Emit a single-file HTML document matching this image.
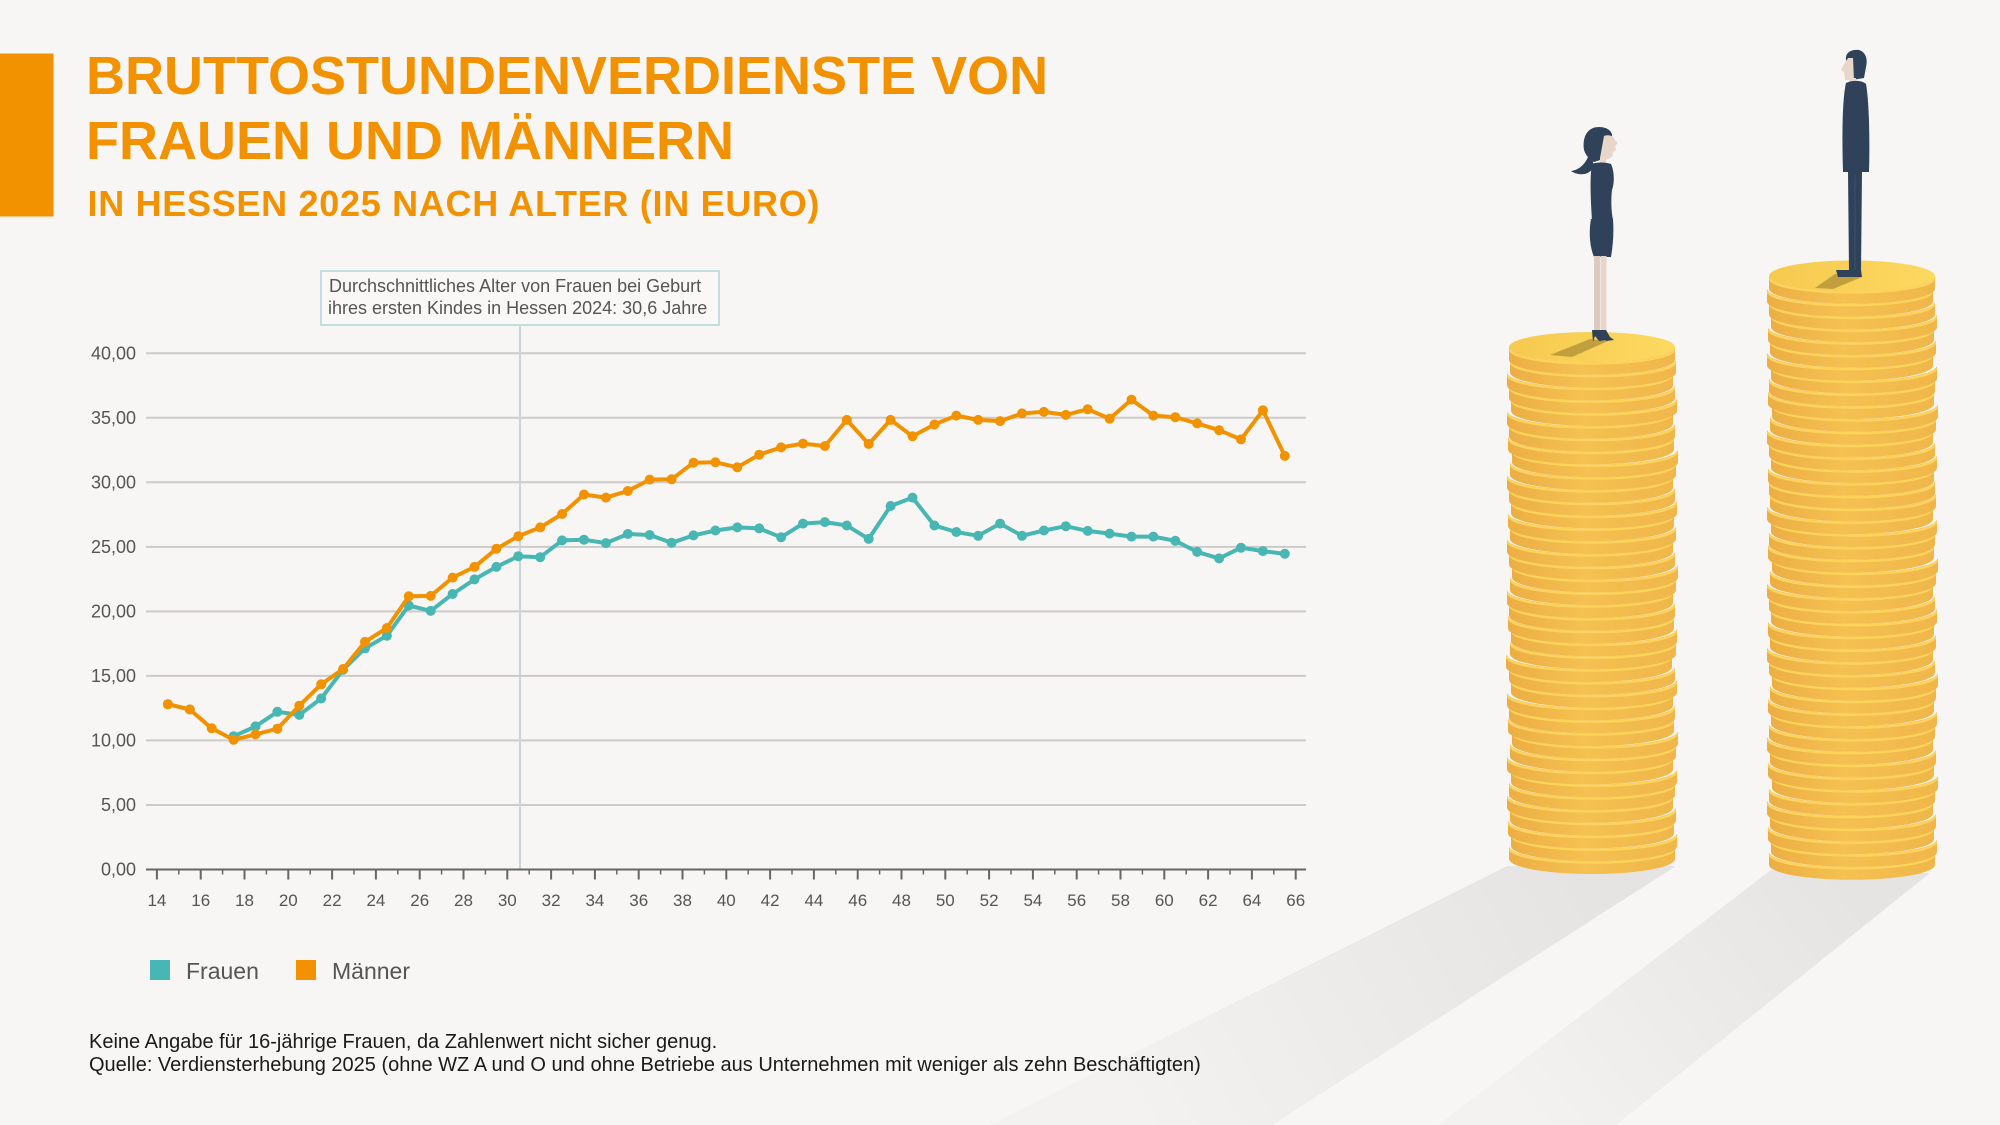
<!DOCTYPE html>
<html>
<head>
<meta charset="utf-8">
<style>
html,body{margin:0;padding:0;}
body{width:2000px;height:1125px;overflow:hidden;background:#f8f6f4;}
svg{display:block;}
</style>
</head>
<body>
<svg width="2000" height="1125" viewBox="0 0 2000 1125" xmlns="http://www.w3.org/2000/svg">
<defs>
  <linearGradient id="sideg" x1="0" y1="0" x2="1" y2="0">
    <stop offset="0" stop-color="#ecae44"/>
    <stop offset="0.45" stop-color="#f5c151"/>
    <stop offset="1" stop-color="#f0b64a"/>
  </linearGradient>
  <linearGradient id="topg" x1="0" y1="0" x2="1" y2="0">
    <stop offset="0" stop-color="#f6c94f"/>
    <stop offset="1" stop-color="#fdd961"/>
  </linearGradient>
  <linearGradient id="shw" gradientUnits="userSpaceOnUse" x1="1590" y1="866" x2="1120" y2="1125">
    <stop offset="0" stop-color="#000" stop-opacity="0.075"/>
    <stop offset="1" stop-color="#000" stop-opacity="0.015"/>
  </linearGradient>
  <linearGradient id="shm" gradientUnits="userSpaceOnUse" x1="1850" y1="870" x2="1520" y2="1125">
    <stop offset="0" stop-color="#000" stop-opacity="0.075"/>
    <stop offset="1" stop-color="#000" stop-opacity="0.015"/>
  </linearGradient>
  <g id="c">
    <path d="M-83,0 A83,15 0 0 0 83,0 L83,12.8 A83,15 0 0 1 -83,12.8 Z" fill="url(#sideg)"/>
    <path d="M-82,2.4 A82,14 0 0 0 82,2.4" fill="none" stroke="#fdd35c" stroke-width="2.4"/>
  </g>
  <marker id="mo" markerWidth="14" markerHeight="14" refX="7" refY="7" markerUnits="userSpaceOnUse"><circle cx="7" cy="7" r="5" fill="#f39200"/></marker>
  <marker id="mt" markerWidth="14" markerHeight="14" refX="7" refY="7" markerUnits="userSpaceOnUse"><circle cx="7" cy="7" r="5" fill="#48b6b2"/></marker>
</defs>

<!-- floor shadows -->
<polygon points="1507,866 1676,866 1272,1125 990,1125" fill="url(#shw)"/>
<polygon points="1771,870 1930,873 1616,1125 1438,1125" fill="url(#shm)"/>

<!-- title block -->
<rect x="0" y="53.5" width="53.5" height="163" fill="#f39200"/>
<g font-family="'Liberation Sans', Arial, sans-serif" font-weight="bold" fill="#f39200">
  <text x="86" y="94" font-size="54">BRUTTOSTUNDENVERDIENSTE VON</text>
  <text x="86" y="159" font-size="54">FRAUEN UND MÄNNERN</text>
  <text x="87.5" y="216" font-size="36" letter-spacing="0.7">IN HESSEN 2025 NACH ALTER (IN EURO)</text>
</g>

<!-- gridlines -->
<g stroke="#cdcbca" stroke-width="2">
  <line x1="146" y1="353.3" x2="1306" y2="353.3"/>
  <line x1="146" y1="417.8" x2="1306" y2="417.8"/>
  <line x1="146" y1="482.3" x2="1306" y2="482.3"/>
  <line x1="146" y1="546.9" x2="1306" y2="546.9"/>
  <line x1="146" y1="611.4" x2="1306" y2="611.4"/>
  <line x1="146" y1="675.9" x2="1306" y2="675.9"/>
  <line x1="146" y1="740.4" x2="1306" y2="740.4"/>
  <line x1="146" y1="805.0" x2="1306" y2="805.0"/>
</g>

<!-- y labels -->
<g font-family="'Liberation Sans', Arial, sans-serif" font-size="18" fill="#555" text-anchor="end">
  <text x="136" y="359.5">40,00</text>
  <text x="136" y="424">35,00</text>
  <text x="136" y="488.5">30,00</text>
  <text x="136" y="553">25,00</text>
  <text x="136" y="617.5">20,00</text>
  <text x="136" y="682">15,00</text>
  <text x="136" y="746.5">10,00</text>
  <text x="136" y="811">5,00</text>
  <text x="136" y="875.5">0,00</text>
</g>

<!-- annotation -->
<line x1="520" y1="325" x2="520" y2="869" stroke="#c6d6dd" stroke-width="2"/>
<rect x="321" y="271" width="398" height="54" fill="#faf8f7" stroke="#c2dfdf" stroke-width="2"/>
<g font-family="'Liberation Sans', Arial, sans-serif" font-size="18" fill="#555">
  <text x="329" y="292">Durchschnittliches Alter von Frauen bei Geburt</text>
  <text x="328" y="314">ihres ersten Kindes in Hessen 2024: 30,6 Jahre</text>
</g>

<!-- x axis -->
<line x1="146" y1="869.5" x2="1306" y2="869.5" stroke="#666" stroke-width="2"/>
<path stroke="#666" stroke-width="2" fill="none" d="M156.9,869.5v10 M200.7,869.5v10 M244.5,869.5v10 M288.3,869.5v10 M332.1,869.5v10 M375.9,869.5v10 M419.7,869.5v10 M463.5,869.5v10 M507.3,869.5v10 M551.1,869.5v10 M594.9,869.5v10 M638.7,869.5v10 M682.5,869.5v10 M726.3,869.5v10 M770.1,869.5v10 M813.9,869.5v10 M857.7,869.5v10 M901.5,869.5v10 M945.3,869.5v10 M989.1,869.5v10 M1032.9,869.5v10 M1076.7,869.5v10 M1120.5,869.5v10 M1164.3,869.5v10 M1208.1,869.5v10 M1251.9,869.5v10 M1295.7,869.5v10"/>
<path stroke="#666" stroke-width="1.5" fill="none" d="M178.8,869.5v5 M222.6,869.5v5 M266.4,869.5v5 M310.2,869.5v5 M354,869.5v5 M397.8,869.5v5 M441.6,869.5v5 M485.4,869.5v5 M529.2,869.5v5 M573,869.5v5 M616.8,869.5v5 M660.6,869.5v5 M704.4,869.5v5 M748.2,869.5v5 M792,869.5v5 M835.8,869.5v5 M879.6,869.5v5 M923.4,869.5v5 M967.2,869.5v5 M1011,869.5v5 M1054.8,869.5v5 M1098.6,869.5v5 M1142.4,869.5v5 M1186.2,869.5v5 M1230,869.5v5 M1273.8,869.5v5"/>
<g font-family="'Liberation Sans', Arial, sans-serif" font-size="17" fill="#555" text-anchor="middle">
  <text x="156.9" y="906">14</text><text x="200.7" y="906">16</text><text x="244.5" y="906">18</text><text x="288.3" y="906">20</text><text x="332.1" y="906">22</text><text x="375.9" y="906">24</text><text x="419.7" y="906">26</text><text x="463.5" y="906">28</text><text x="507.3" y="906">30</text><text x="551.1" y="906">32</text><text x="594.9" y="906">34</text><text x="638.7" y="906">36</text><text x="682.5" y="906">38</text><text x="726.3" y="906">40</text><text x="770.1" y="906">42</text><text x="813.9" y="906">44</text><text x="857.7" y="906">46</text><text x="901.5" y="906">48</text><text x="945.3" y="906">50</text><text x="989.1" y="906">52</text><text x="1032.9" y="906">54</text><text x="1076.7" y="906">56</text><text x="1120.5" y="906">58</text><text x="1164.3" y="906">60</text><text x="1208.1" y="906">62</text><text x="1251.9" y="906">64</text><text x="1295.7" y="906">66</text>
</g>

<!-- series: Frauen -->
<polyline fill="none" stroke="#48b6b2" stroke-width="4" stroke-linejoin="round" marker-start="url(#mt)" marker-mid="url(#mt)" marker-end="url(#mt)" points="167.9,704.2 189.8,709.5"/>
<polyline fill="none" stroke="#48b6b2" stroke-width="4" stroke-linejoin="round" marker-start="url(#mt)" marker-mid="url(#mt)" marker-end="url(#mt)" points="233.6,736.3 255.5,726.4 277.4,711.8 299.3,714.9 321.2,698.5 343.1,669.7 365.0,648.3 386.9,635.7 408.8,605.5 430.7,610.9 452.6,594.0 474.5,579.4 496.4,566.9 518.3,556.2 540.2,557.2 562.1,540.4 584.0,539.7 605.9,543.1 627.8,534.0 649.7,535.0 671.6,542.8 693.5,535.4 715.4,530.5 737.3,527.4 759.2,528.4 781.1,537.3 803.0,523.6 824.9,522.1 846.8,525.5 868.7,538.9 890.6,506.0 912.5,497.6 934.4,525.5 956.3,532.0 978.2,535.8 1000.1,523.6 1022.0,535.8 1043.9,530.5 1065.8,526.2 1087.7,530.9 1109.6,533.6 1131.5,536.6 1153.4,536.6 1175.3,540.8 1197.2,551.9 1219.1,558.4 1241.0,547.7 1262.9,551.1 1284.8,553.8"/>
<!-- series: Männer -->
<polyline fill="none" stroke="#f39200" stroke-width="4" stroke-linejoin="round" marker-start="url(#mo)" marker-mid="url(#mo)" marker-end="url(#mo)" points="167.9,704.2 189.8,709.5 211.7,728.3 233.6,739.8 255.5,734.4 277.4,728.7 299.3,705.7 321.2,684.3 343.1,669.0 365.0,641.9 386.9,628.0 408.8,596.3 430.7,595.9 452.6,577.6 474.5,566.9 496.4,548.8 518.3,536.2 540.2,527.4 562.1,514.0 584.0,494.5 605.9,497.6 627.8,491.0 649.7,479.6 671.6,479.3 693.5,462.7 715.4,462.3 737.3,467.3 759.2,454.7 781.1,447.4 803.0,443.6 824.9,446.0 846.8,419.9 868.7,444.0 890.6,419.9 912.5,436.3 934.4,424.5 956.3,415.6 978.2,419.9 1000.1,421.1 1022.0,413.4 1043.9,411.9 1065.8,414.9 1087.7,409.2 1109.6,418.7 1131.5,399.6 1153.4,415.6 1175.3,417.2 1197.2,423.4 1219.1,430.2 1241.0,439.4 1262.9,410.3 1284.8,455.9"/>

<!-- legend -->
<rect x="150" y="960" width="20" height="20" fill="#48b6b2"/>
<rect x="296" y="960" width="20" height="20" fill="#f39200"/>
<g font-family="'Liberation Sans', Arial, sans-serif" font-size="23" fill="#555">
  <text x="186" y="979">Frauen</text>
  <text x="332" y="979">Männer</text>
</g>

<!-- footer -->
<g font-family="'Liberation Sans', Arial, sans-serif" font-size="20" fill="#1a1a1a">
  <text x="89" y="1048">Keine Angabe für 16-jährige Frauen, da Zahlenwert nicht sicher genug.</text>
  <text x="89" y="1071">Quelle: Verdiensterhebung 2025 (ohne WZ A und O und ohne Betriebe aus Unternehmen mit weniger als zehn Beschäftigten)</text>
</g>

<!-- woman coin stack -->
<g>
<use href="#c" x="1592" y="846.2"/><use href="#c" x="1594" y="833.4"/><use href="#c" x="1591" y="820.6"/><use href="#c" x="1593" y="807.8"/><use href="#c" x="1590" y="795"/><use href="#c" x="1592" y="782.2"/><use href="#c" x="1594" y="769.4"/><use href="#c" x="1590" y="756.6"/><use href="#c" x="1593" y="743.8"/><use href="#c" x="1595" y="731"/>
<use href="#c" x="1591" y="718.2"/><use href="#c" x="1592" y="705.4"/><use href="#c" x="1590" y="692.6"/><use href="#c" x="1594" y="679.8"/><use href="#c" x="1592" y="667"/><use href="#c" x="1589" y="654.2"/><use href="#c" x="1593" y="641.4"/><use href="#c" x="1594" y="628.6"/><use href="#c" x="1591" y="615.8"/><use href="#c" x="1592" y="603"/>
<use href="#c" x="1590" y="590.2"/><use href="#c" x="1593" y="577.4"/><use href="#c" x="1595" y="564.6"/><use href="#c" x="1592" y="551.8"/><use href="#c" x="1590" y="539"/><use href="#c" x="1593" y="526.2"/><use href="#c" x="1591" y="513.4"/><use href="#c" x="1594" y="500.6"/><use href="#c" x="1592" y="487.8"/><use href="#c" x="1590" y="475"/>
<use href="#c" x="1593" y="462.2"/><use href="#c" x="1595" y="449.4"/><use href="#c" x="1591" y="436.6"/><use href="#c" x="1592" y="423.8"/><use href="#c" x="1590" y="411"/><use href="#c" x="1594" y="398.2"/><use href="#c" x="1592" y="385.4"/><use href="#c" x="1590" y="372.6"/><use href="#c" x="1593" y="359.8"/><use href="#c" x="1592" y="347"/>
<ellipse cx="1592" cy="347" rx="83" ry="15" fill="url(#topg)"/>
<polygon points="1590,339 1608,341 1572,357 1550,355" fill="#b8963a" opacity="0.85"/>
</g>

<!-- man coin stack -->
<g>
<use href="#c" x="1852" y="852"/><use href="#c" x="1854" y="839.2"/><use href="#c" x="1851" y="826.4"/><use href="#c" x="1853" y="813.6"/><use href="#c" x="1850" y="800.8"/><use href="#c" x="1852" y="788"/><use href="#c" x="1855" y="775.2"/><use href="#c" x="1851" y="762.4"/><use href="#c" x="1853" y="749.6"/><use href="#c" x="1850" y="736.8"/>
<use href="#c" x="1852" y="724"/><use href="#c" x="1854" y="711.2"/><use href="#c" x="1851" y="698.4"/><use href="#c" x="1853" y="685.6"/><use href="#c" x="1855" y="672.8"/><use href="#c" x="1852" y="660"/><use href="#c" x="1850" y="647.2"/><use href="#c" x="1853" y="634.4"/><use href="#c" x="1851" y="621.6"/><use href="#c" x="1854" y="608.8"/>
<use href="#c" x="1852" y="596"/><use href="#c" x="1850" y="583.2"/><use href="#c" x="1853" y="570.4"/><use href="#c" x="1855" y="557.6"/><use href="#c" x="1851" y="544.8"/><use href="#c" x="1852" y="532"/><use href="#c" x="1854" y="519.2"/><use href="#c" x="1850" y="506.4"/><use href="#c" x="1853" y="493.6"/><use href="#c" x="1852" y="480.8"/>
<use href="#c" x="1851" y="468"/><use href="#c" x="1854" y="455.2"/><use href="#c" x="1852" y="442.4"/><use href="#c" x="1850" y="429.6"/><use href="#c" x="1853" y="416.8"/><use href="#c" x="1855" y="404"/><use href="#c" x="1851" y="391.2"/><use href="#c" x="1852" y="378.4"/><use href="#c" x="1854" y="365.6"/><use href="#c" x="1850" y="352.8"/>
<use href="#c" x="1853" y="340"/><use href="#c" x="1851" y="327.2"/><use href="#c" x="1854" y="314.4"/><use href="#c" x="1852" y="301.6"/><use href="#c" x="1850" y="288.8"/><use href="#c" x="1852" y="276"/>
<ellipse cx="1852" cy="276" rx="83" ry="15.5" fill="url(#topg)"/>
<polygon points="1835,274 1862,277 1833,289 1815,288" fill="#b8963a" opacity="0.85"/>
</g>

<!-- woman figure -->
<g>
  <path d="M1584,150 C1582,136 1588,127 1599,127 C1608,127 1613,132 1612,137 L1604,140 L1600,160 L1594,162 C1590,160 1586,156 1584,150 Z" fill="#2f4259"/>
  <path d="M1604,136 C1609,134 1614,136 1615,140 L1618,143 L1615,146 L1616,150 L1613,152 L1612,157 C1608,160 1603,160 1600,158 Z" fill="#e8d6ca"/>
  <path d="M1590,150 C1588,162 1580,170 1571,171 C1578,176 1590,176 1594,166 Z" fill="#2f4259"/>
  <rect x="1600" y="157" width="6" height="8" fill="#e8d6ca"/>
  <path d="M1592,164 C1596,162 1606,162 1611,164 C1614,170 1615,182 1612,190 C1611,198 1611,210 1613,220 L1592,220 C1591,205 1590,185 1591,172 Z" fill="#2f4259"/>
  <path d="M1591,219 L1613,219 C1614,232 1613,245 1611,257 L1594,257 C1589,245 1589,230 1591,219 Z" fill="#2f4259"/>
  <rect x="1594" y="256" width="6" height="75" fill="#dccabe"/>
  <rect x="1600.5" y="256" width="6" height="75" fill="#e8d6ca"/>
  <path d="M1592,330 L1599,330 L1603,337 L1607,340 L1599,341 L1595,336 L1593,342 Z" fill="#2f4259"/>
  <path d="M1599,330 L1606,330 L1610,337 L1614,340 L1606,341 L1602,336 L1600,342 Z" fill="#2f4259"/>
</g>

<!-- man figure -->
<g>
  <path d="M1846,60 C1845,52 1852,49 1859,50 C1866,52 1868,60 1866,67 L1864,78 L1852,80 L1848,66 Z" fill="#2f4259"/>
  <path d="M1848,58 L1853,58 L1854,80 L1845,80 L1844,72 L1841,70 L1843,66 Z" fill="#e8d6ca"/>
  <rect x="1849" y="78" width="7" height="6" fill="#e8d6ca"/>
  <path d="M1846,83 C1852,80 1862,80 1866,84 C1869,100 1870,140 1869,172 L1843,172 C1842,140 1842,100 1846,83 Z" fill="#2f4259"/>
  <path d="M1848,171 L1862,171 L1861,272 L1849,272 Z" fill="#2f4259"/>
  <line x1="1855" y1="175" x2="1855" y2="270" stroke="#3d5068" stroke-width="1"/>
  <path d="M1836,270 L1861,270 L1862,277 L1838,277 Z" fill="#2f4259"/>
</g>
</svg>
</body>
</html>
